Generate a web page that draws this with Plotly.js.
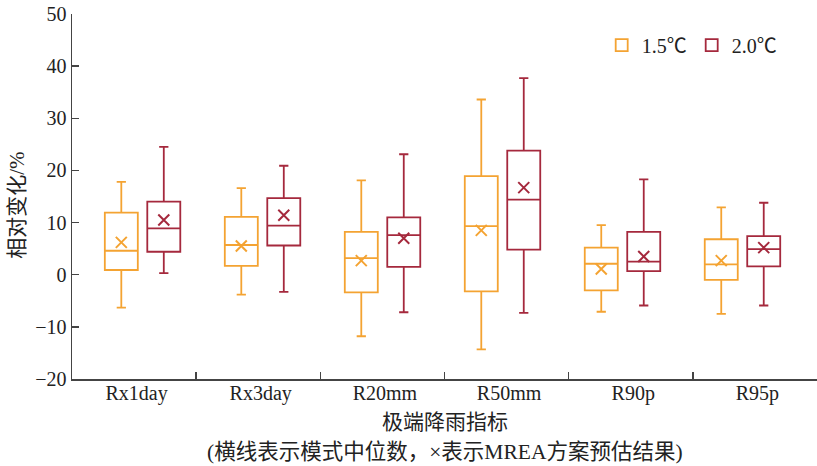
<!DOCTYPE html>
<html>
<head>
<meta charset="utf-8">
<script src="https://cdn.plot.ly/plotly-3.0.1.min.js"></script>
<style>html,body{margin:0;padding:0;background:#fff;}#chart{width:817px;height:466px;}</style>
</head>
<body>
<div id="chart"></div>
<script>
// ---- data ----
const categories = ["Rx1day", "Rx3day", "R20mm", "R50mm", "R90p", "R95p"];
const seriesNames = ["1.5℃", "2.0℃"];

const low15    = [-6.3, -3.8, -11.8, -14.3, -7.1, -7.5];
const q1_15    = [0.9, 1.7, -3.4, -3.2, -3.0, -1.0];
const med15    = [4.6, 5.7, 3.2, 9.3, 2.1, 2.0];
const q3_15    = [11.9, 11.1, 8.2, 18.9, 5.2, 6.8];
const high15   = [17.8, 16.6, 18.1, 33.6, 9.5, 12.9];
const mean15   = [6.2, 5.5, 2.7, 8.5, 1.1, 2.7];

const low20    = [0.3, -3.3, -7.2, -7.3, -5.9, -5.9];
const q1_20    = [4.4, 5.6, 1.5, 4.8, 0.7, 1.6];
const med20    = [8.9, 9.4, 7.6, 14.4, 2.5, 4.9];
const q3_20    = [14.0, 14.7, 11.0, 23.8, 8.2, 7.4];
const high20   = [24.5, 20.9, 23.1, 37.7, 18.3, 13.8];
const mean20   = [10.5, 11.4, 7.0, 16.7, 3.5, 5.2];

// ---- style ----
const C15 = "#F4A332";
const C20 = "#A5293D";
const FONT = "Liberation Serif, 'Times New Roman', 'Noto Sans CJK SC', serif";
const off = 0.177;     // half distance between paired boxes (x units)
const bw = 0.275;      // box width (x units)

const pos = categories.map((c, i) => i + 1);
const pos15 = pos.map(p => p - off);
const pos20 = pos.map(p => p + off);

function boxTrace(name, x, lo, q1, md, q3, hi, color) {
  return {
    type: "box", name: name, x: x,
    lowerfence: lo, q1: q1, median: md, q3: q3, upperfence: hi,
    width: bw, whiskerwidth: 0.28,
    line: {color: color, width: 1.8},
    fillcolor: "rgba(255,255,255,0)",
    hoverinfo: "skip", showlegend: true
  };
}
function meanTrace(name, x, m, color) {
  return {
    type: "scatter", mode: "markers", name: name + " mean", x: x, y: m,
    marker: {symbol: "x-thin", size: 11, line: {color: color, width: 2}, color: color},
    showlegend: false, hoverinfo: "skip"
  };
}

const data = [
  boxTrace(seriesNames[0], pos15, low15, q1_15, med15, q3_15, high15, C15),
  boxTrace(seriesNames[1], pos20, low20, q1_20, med20, q3_20, high20, C20),
  meanTrace(seriesNames[0], pos15, mean15, C15),
  meanTrace(seriesNames[1], pos20, mean20, C20),
  {type: "scatter", x: [], y: [], xaxis: "x2", showlegend: false, hoverinfo: "skip"},
  {type: "scatter", x: [], y: [], xaxis: "x3", showlegend: false, hoverinfo: "skip"}
];

const labelPos = categories.map((c, i) => i + 0.52);
const boundPos = categories.slice(1).map((c, i) => i + 1);

const layout = {
  width: 817, height: 466,
  margin: {l: 72, r: 0, t: 14, b: 87},
  paper_bgcolor: "#fff", plot_bgcolor: "#fff",
  font: {family: FONT, size: 20, color: "#222"},
  showlegend: true,
  legend: {orientation: "h", x: 0.711, xanchor: "left", y: 0.915, yanchor: "middle",
           font: {family: FONT, size: 20, color: "#222"}, bgcolor: "rgba(0,0,0,0)", itemclick: false},
  xaxis: {range: [0.412, 6.621], showticklabels: false, ticks: "", showline: true,
          linecolor: "#444", linewidth: 1.5, showgrid: false, zeroline: false, fixedrange: true},
  xaxis2: {overlaying: "x", range: [0, 6], tickmode: "array", tickvals: labelPos, ticktext: categories,
           ticks: "", showline: false, showgrid: false, zeroline: false,
           tickfont: {family: FONT, size: 20, color: "#222"}},
  xaxis3: {overlaying: "x", range: [0, 6], tickmode: "array", tickvals: boundPos, ticks: "inside",
           ticklen: 7, tickwidth: 1.5, tickcolor: "#444", showticklabels: false,
           showline: false, showgrid: false, zeroline: false},
  yaxis: {range: [-20, 50], tickmode: "linear", tick0: 0, dtick: 10, ticks: "inside", ticklen: 7,
          tickwidth: 1.5, tickcolor: "#444", showline: true, linecolor: "#444", linewidth: 1.5,
          showgrid: false, zeroline: false, tickfont: {family: FONT, size: 20, color: "#222"}},
  annotations: [
    {text: "相对变化/%", xref: "paper", yref: "paper", x: -0.074, y: 0.477, textangle: -90,
     showarrow: false, xanchor: "center", yanchor: "middle", font: {family: FONT, size: 21, color: "#222"}},
    {text: "极端降雨指标", xref: "paper", yref: "paper", x: 0.501, y: -0.118,
     showarrow: false, xanchor: "center", yanchor: "middle", font: {family: FONT, size: 21, color: "#222"}},
    {text: "(横线表示模式中位数，×表示MREA方案预估结果)", xref: "paper", yref: "paper", x: 0.5, y: -0.2,
     showarrow: false, xanchor: "center", yanchor: "middle", font: {family: FONT, size: 21.5, color: "#222"}}
  ]
};

Plotly.newPlot("chart", data, layout, {displayModeBar: false, staticPlot: true});
</script>
</body>
</html>
